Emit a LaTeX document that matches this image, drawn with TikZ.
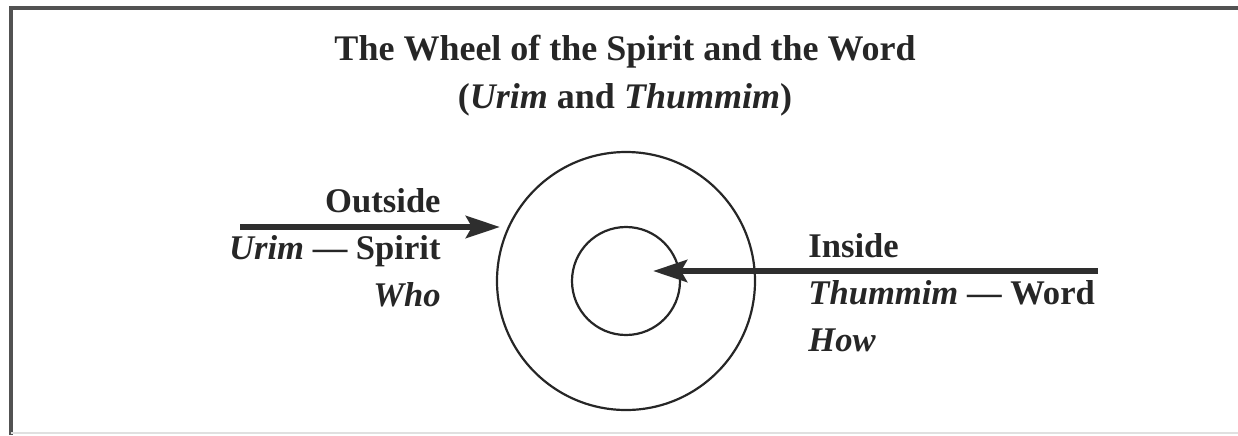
\documentclass[tikz,border=0pt]{standalone}
\usepackage{fontspec}
\setmainfont{Liberation Serif}
\usetikzlibrary{arrows.meta}
\begin{document}
\begin{tikzpicture}[x=0.5pt,y=-0.5pt,
  frameline/.style={draw=black!68,line width=2pt},
  ring/.style={circle,draw=black!85,line width=1.1pt,inner sep=0pt},
  bigarrow/.style={draw=black!82,line width=3pt,-{Stealth[length=17pt,width=11pt,inset=3pt]}},
  titletext/.style={font=\fontsize{18}{22}\selectfont\bfseries,inner sep=0pt,text=black!85},
  lbl/.style={font=\fontsize{17.3}{21}\selectfont\bfseries,inner sep=0pt,text=black!85}]
\useasboundingbox (0,0) rectangle (1238,435);
% frame
\coordinate (ftr) at (1238,8);
\coordinate (ftl) at (11,8);
\coordinate (fbl) at (11,435);
\coordinate (fbr) at (1238,433);
\draw[frameline] (ftr) -- (ftl) -- (fbl);
\draw[black!12,line width=0.6pt] ([yshift=1pt]fbl) -- (fbr);
% title
\node[titletext,anchor=base] (t1) at (625,60) {The Wheel of the Spirit and the Word};
\node[titletext,anchor=base] (t2) at (625,108) {(\textit{Urim} and \textit{Thummim})};
% circles
\node[ring,minimum size=129pt] (outer) at (626,281) {};
\node[ring,minimum size=54pt] (inner) at (626,281) {};
% left arrow
\coordinate (ls) at (240,227);
\coordinate (lt) at (500,227);
\draw[bigarrow] (ls) -- (lt);
% right arrow
\coordinate (rs) at (1098,271);
\coordinate (rt) at (653,271);
\draw[bigarrow] (rs) -- (rt);
% left labels
\node[lbl,anchor=base east] (outside) at (441,212) {Outside};
\node[lbl,anchor=base east] (urim) at (441,259) {\textit{Urim} --- Spirit};
\node[lbl,anchor=base east] (who) at (441,306) {\textit{Who}};
% right labels
\node[lbl,anchor=base west] (inside) at (808,257) {Inside};
\node[lbl,anchor=base west] (thummim) at (808,304) {\textit{Thummim} --- Word};
\node[lbl,anchor=base west] (how) at (808,351) {\textit{How}};
\end{tikzpicture}
\end{document}
